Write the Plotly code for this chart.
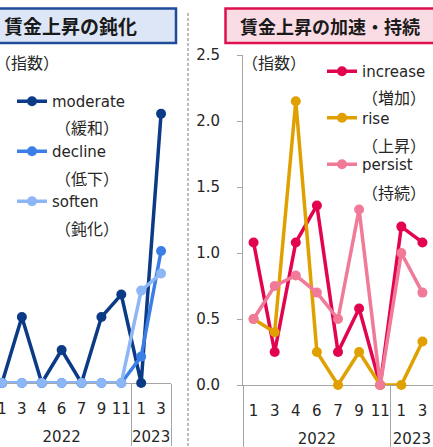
import plotly.graph_objects as go

W, H = 433, 447

# Months observed (survey rounds) grouped by year; the year level is set
# one line lower than the months
years = ["<br>2022"] * 7 + ["<br>2023"] * 2
months = ["1", "3", "4", "6", "7", "9", "11", "1", "3"]

# Wage growth slowing (index)
moderate = [0, 0.5, 0, 0.25, 0, 0.5, 0.67, 0, 2.04]
decline = [0, 0, 0, 0, 0, 0, 0, 0.2, 1.0]
soften = [0, 0, 0, 0, 0, 0, 0, 0.7, 0.83]

# Wage growth accelerating / persisting (index)
increase = [1.08, 0.25, 1.08, 1.36, 0.25, 0.58, 0, 1.2, 1.08]
rise = [0.5, 0.4, 2.15, 0.25, 0, 0.25, 0, 0, 0.33]
persist = [0.5, 0.75, 0.83, 0.7, 0.5, 1.33, 0, 1.0, 0.7]

left_series = [("moderate", "（緩和）", moderate, "#0B3A86"),
               ("decline", "（低下）", decline, "#3B7FE6"),
               ("soften", "（鈍化）", soften, "#8DB6F6")]
right_series = [("increase", "（増加）", increase, "#E2054E"),
                ("rise", "（上昇）", rise, "#E0A100"),
                ("persist", "（持続）", persist, "#F07A98")]

LAT = "DejaVu Sans"
JP = "Noto Sans CJK JP"
GREY = "#A6A6A6"
TXT = "#262626"


def px(x):
    return x / W


def py(y):
    return (H - y) / H


fig = go.Figure()
xcat = [years, months]
for name, _, vals, col in left_series:
    fig.add_trace(go.Scatter(
        x=xcat, y=vals, name=name, mode="lines+markers",
        line=dict(color=col, width=3.5), marker=dict(size=10, color=col),
        xaxis="x", yaxis="y", legend="legend", legendgroup=name,
        cliponaxis=False))
for name, _, vals, col in right_series:
    fig.add_trace(go.Scatter(
        x=xcat, y=vals, name=name, mode="lines+markers",
        line=dict(color=col, width=3.5), marker=dict(size=10, color=col),
        xaxis="x2", yaxis="y2", legend="legend2", legendgroup=name,
        cliponaxis=False))

xcommon = dict(type="multicategory", showline=True, linecolor=GREY, linewidth=1,
               showdividers=True, dividercolor=GREY, dividerwidth=1,
               ticks="", tickangle=0, showgrid=False, zeroline=False,
               layer="below traces", automargin=False, ticklabelstandoff=12,
               tickfont=dict(family=LAT, size=15, color=TXT))
ycommon = dict(range=[0, 2.5], showgrid=False, zeroline=False, automargin=False)

fig.update_layout(
    width=W, height=H,
    margin=dict(l=0, r=0, t=0, b=0, autoexpand=False),
    paper_bgcolor="white", plot_bgcolor="rgba(0,0,0,0)",
    font=dict(family=LAT, size=15, color=TXT),
    xaxis=dict(domain=[0, px(171)], range=[-0.1, 8.5], anchor="y", **xcommon),
    yaxis=dict(domain=[py(383), py(53)], anchor="x", visible=False, **ycommon),
    xaxis2=dict(domain=[px(243), 1], range=[-0.5, 8.5], anchor="y2", **xcommon),
    yaxis2=dict(domain=[py(385), py(55)], anchor="x2", showline=True,
                linecolor=GREY, linewidth=1, ticks="outside", ticklen=5,
                tickcolor=GREY, dtick=0.5, tickformat=".1f",
                ticklabelstandoff=14, layer="below traces",
                tickfont=dict(family=LAT, size=15, color=TXT), **ycommon),
    legend=dict(x=px(12), y=py(85), xanchor="left", yanchor="top",
                bgcolor="rgba(0,0,0,0)", traceorder="grouped",
                tracegroupgap=27.5, font=dict(family=LAT, size=15, color=TXT)),
    legend2=dict(x=px(322), y=py(55), xanchor="left", yanchor="top",
                 bgcolor="rgba(0,0,0,0)", traceorder="grouped",
                 tracegroupgap=24, font=dict(family=LAT, size=15, color=TXT)),
    showlegend=True,
)

shapes = [
    # panel title boxes
    dict(type="rect", xref="paper", yref="paper", x0=px(-6), x1=px(176),
         y0=py(43), y1=py(8.5), fillcolor="#DCE6F6",
         line=dict(color="#1F4C98", width=2.5), layer="below"),
    dict(type="rect", xref="paper", yref="paper", x0=px(225.5), x1=px(445),
         y0=py(43), y1=py(8.5), fillcolor="#FADCE5",
         line=dict(color="#E0104F", width=2.5), layer="below"),
    # separator between the two panels
    dict(type="line", xref="paper", yref="paper", x0=px(188), x1=px(188),
         y0=py(13), y1=py(447), line=dict(color=GREY, width=1.5, dash="3px,2px")),
]

annotations = [
    dict(text="<b>賃金上昇の鈍化</b>", x=px(2), y=py(26), xanchor="left",
         yanchor="middle", font=dict(family=JP, size=19, color="#1A1A1A")),
    dict(text="<b>賃金上昇の加速・持続</b>", x=px(238), y=py(26), xanchor="left",
         yanchor="middle", font=dict(family=JP, size=18, color="#1A1A1A")),
    dict(text="（指数）", x=px(-7), y=py(62), xanchor="left", yanchor="middle",
         font=dict(family=JP, size=16, color=TXT)),
    dict(text="（指数）", x=px(240), y=py(62), xanchor="left", yanchor="middle",
         font=dict(family=JP, size=16, color=TXT)),
]
for (name, jp, _, _), yy in zip(left_series, [127, 178, 228]):
    annotations.append(dict(text=jp, x=px(53), y=py(yy), xanchor="left",
                            yanchor="middle", font=dict(family=JP, size=16, color=TXT)))
for (name, jp, _, _), yy in zip(right_series, [97, 145, 192]):
    annotations.append(dict(text=jp, x=px(360), y=py(yy), xanchor="left",
                            yanchor="middle", font=dict(family=JP, size=16, color=TXT)))
for a in annotations:
    a.update(xref="paper", yref="paper", showarrow=False)

fig.update_layout(shapes=shapes, annotations=annotations)
fig.write_html("out.html")
